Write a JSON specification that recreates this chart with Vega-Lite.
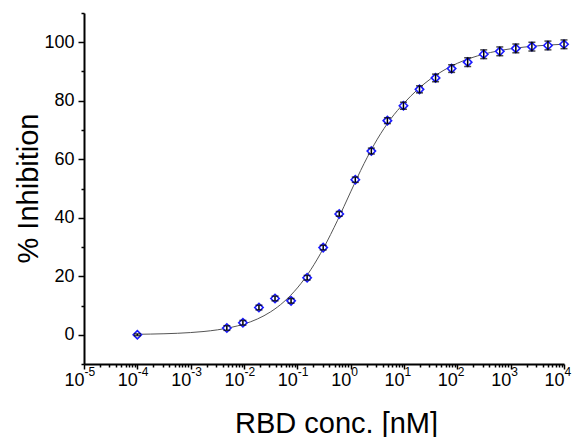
{
  "$schema": "https://vega.github.io/schema/vega-lite/v6.json",
  "width": 480,
  "height": 351,
  "autosize": "none",
  "padding": {"left": 84, "top": 13, "right": 14, "bottom": 73},
  "background": "white",
  "config": {
    "view": {"stroke": null},
    "font": "Liberation Sans",
    "axis": {
      "grid": false,
      "domainColor": "black",
      "domainWidth": 2,
      "tickColor": "black",
      "tickWidth": 1.5,
      "labelColor": "black",
      "titleColor": "black",
      "labelFont": "Liberation Sans",
      "titleFont": "Liberation Sans",
      "titleFontWeight": "normal"
    }
  },
  "datasets": {
    "points": [
      {"conc": 0.0001, "inh": 0.0, "err": 0.3},
      {"conc": 0.004768, "inh": 2.3, "err": 0.8},
      {"conc": 0.009537, "inh": 4.1, "err": 0.8},
      {"conc": 0.01907, "inh": 9.3, "err": 0.8},
      {"conc": 0.03815, "inh": 12.4, "err": 0.8},
      {"conc": 0.0763, "inh": 11.6, "err": 0.8},
      {"conc": 0.1526, "inh": 19.5, "err": 0.8},
      {"conc": 0.3052, "inh": 29.8, "err": 0.8},
      {"conc": 0.6104, "inh": 41.3, "err": 0.8},
      {"conc": 1.2207, "inh": 53.0, "err": 0.9},
      {"conc": 2.4414, "inh": 62.8, "err": 1.0},
      {"conc": 4.8828, "inh": 73.2, "err": 1.0},
      {"conc": 9.7656, "inh": 78.3, "err": 1.2},
      {"conc": 19.531, "inh": 83.9, "err": 1.2},
      {"conc": 39.0625, "inh": 87.8, "err": 1.3},
      {"conc": 78.125, "inh": 91.0, "err": 1.3},
      {"conc": 156.25, "inh": 93.2, "err": 1.5},
      {"conc": 312.5, "inh": 95.9, "err": 1.5},
      {"conc": 625, "inh": 96.9, "err": 1.5},
      {"conc": 1250, "inh": 97.9, "err": 1.5},
      {"conc": 2500, "inh": 98.5, "err": 1.5},
      {"conc": 5000, "inh": 98.9, "err": 1.5},
      {"conc": 10000, "inh": 99.3, "err": 1.5}
    ],
    "curve": [
      {"conc": 0.0001, "fit": 0.15},
      {"conc": 0.000178, "fit": 0.23},
      {"conc": 0.000316, "fit": 0.34},
      {"conc": 0.000562, "fit": 0.50},
      {"conc": 0.001, "fit": 0.75},
      {"conc": 0.00178, "fit": 1.12},
      {"conc": 0.00316, "fit": 1.67},
      {"conc": 0.00562, "fit": 2.48},
      {"conc": 0.01, "fit": 3.66},
      {"conc": 0.0178, "fit": 5.38},
      {"conc": 0.0316, "fit": 7.84},
      {"conc": 0.0562, "fit": 11.30},
      {"conc": 0.1, "fit": 16.00},
      {"conc": 0.178, "fit": 22.18},
      {"conc": 0.316, "fit": 29.90},
      {"conc": 0.562, "fit": 38.96},
      {"conc": 1, "fit": 48.85},
      {"conc": 1.78, "fit": 58.49},
      {"conc": 3.16, "fit": 66.87},
      {"conc": 5.62, "fit": 73.75},
      {"conc": 10, "fit": 79.18},
      {"conc": 17.8, "fit": 83.76},
      {"conc": 31.6, "fit": 87.50},
      {"conc": 56.2, "fit": 90.47},
      {"conc": 100, "fit": 92.80},
      {"conc": 178, "fit": 94.59},
      {"conc": 316, "fit": 95.95},
      {"conc": 562, "fit": 96.99},
      {"conc": 1000, "fit": 97.76},
      {"conc": 1778, "fit": 98.34},
      {"conc": 3162, "fit": 98.77},
      {"conc": 5623, "fit": 99.09},
      {"conc": 10000, "fit": 99.33}
    ]
  },
  "resolve": {"axis": {"x": "independent", "y": "independent"}},
  "layer": [
    {
      "data": {"name": "curve"},
      "mark": {"type": "line", "color": "#555555", "strokeWidth": 1, "interpolate": "monotone"},
      "encoding": {
        "x": {
          "field": "conc", "type": "quantitative",
          "scale": {"type": "log", "domain": [0.00001, 10000], "nice": false},
          "axis": {
            "orient": "bottom",
            "values": [0.00001, 0.0001, 0.001, 0.01, 0.1, 1, 10, 100, 1000, 10000],
            "tickSize": 5,
            "labelPadding": 2,
            "labelFontSize": 18,
            "labelBaseline": "top",
            "labelAlign": "right",
            "labelDx": 4,
            "labelExpr": "'10'",
            "labelFlush": false,
            "labelOverlap": false,
            "title": "RBD conc. [nM]",
            "titleFontSize": 29,
            "titleX": 252,
            "titleY": 68,
            "titleAlign": "center",
            "titleBaseline": "alphabetic"
          }
        },
        "y": {
          "field": "fit", "type": "quantitative",
          "scale": {"domain": [-10, 110], "nice": false, "zero": false},
          "axis": {
            "orient": "left",
            "values": [0, 20, 40, 60, 80, 100],
            "tickSize": 6,
            "labelPadding": 4,
            "labelFontSize": 18,
            "labelFlush": false,
            "labelOverlap": false,
            "title": "% Inhibition",
            "titleFontSize": 29,
            "titleAngle": -90,
            "titleX": -47,
            "titleY": 175,
            "titleAlign": "center",
            "titleBaseline": "alphabetic"
          }
        }
      }
    },
    {
      "data": {"name": "points"},
      "mark": {"type": "point", "shape": "diamond", "size": 70, "filled": true, "fill": "white", "stroke": "#1a1aff", "strokeWidth": 1.6, "opacity": 1},
      "encoding": {
        "x": {
          "field": "conc", "type": "quantitative",
          "scale": {"type": "log", "domain": [0.00001, 10000], "nice": false},
          "axis": {
            "orient": "bottom",
            "values": [0.00002,0.00003,0.00004,0.00005,0.00006,0.00007,0.00008,0.00009,
                       0.0002,0.0003,0.0004,0.0005,0.0006,0.0007,0.0008,0.0009,
                       0.002,0.003,0.004,0.005,0.006,0.007,0.008,0.009,
                       0.02,0.03,0.04,0.05,0.06,0.07,0.08,0.09,
                       0.2,0.3,0.4,0.5,0.6,0.7,0.8,0.9,
                       2,3,4,5,6,7,8,9,
                       20,30,40,50,60,70,80,90,
                       200,300,400,500,600,700,800,900,
                       2000,3000,4000,5000,6000,7000,8000,9000],
            "tickSize": 3,
            "labels": false,
            "domain": false,
            "title": null
          }
        },
        "y": {
          "field": "inh", "type": "quantitative",
          "scale": {"domain": [-10, 110], "nice": false, "zero": false},
          "axis": {
            "orient": "left",
            "values": [-10, 10, 30, 50, 70, 90, 110],
            "tickSize": 3,
            "labels": false,
            "domain": false,
            "title": null
          }
        }
      }
    },
    {
      "data": {"name": "points"},
      "mark": {"type": "errorbar", "color": "black", "thickness": 1.5, "ticks": {"size": 7, "thickness": 1.5, "color": "black"}},
      "encoding": {
        "x": {
          "field": "conc", "type": "quantitative",
          "scale": {"type": "log", "domain": [0.00001, 10000], "nice": false},
          "axis": {
            "orient": "bottom",
            "values": [0.00001, 0.0001, 0.001, 0.01, 0.1, 1, 10, 100, 1000, 10000],
            "ticks": false,
            "domain": false,
            "labelPadding": 2,
            "labelFontSize": 12,
            "labelBaseline": "top",
            "labelAlign": "left",
            "labelDx": 5,
            "labelExpr": "'' + round(log(datum.value)/LN10)",
            "labelFlush": false,
            "labelOverlap": false,
            "title": null
          }
        },
        "y": {
          "field": "inh", "type": "quantitative",
          "scale": {"domain": [-10, 110], "nice": false, "zero": false},
          "axis": null
        },
        "yError": {"field": "err"}
      }
    }
  ]
}
